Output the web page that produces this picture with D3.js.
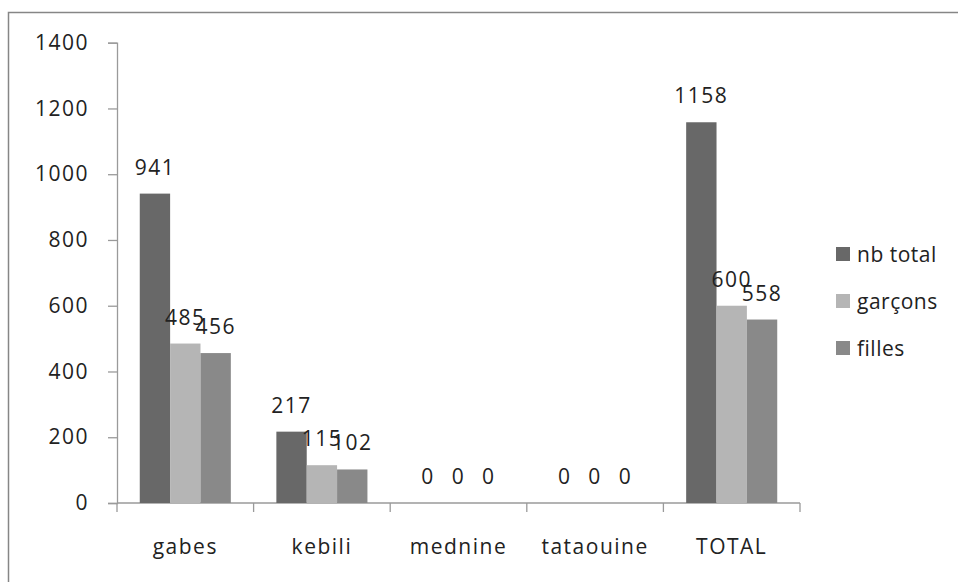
<!DOCTYPE html>
<html>
<head>
<meta charset="utf-8">
<script src="https://cdn.jsdelivr.net/npm/d3@7"></script>
<style>
  html, body { margin: 0; padding: 0; background: #fff; }
  text { font-family: "Open Sans", sans-serif; fill: #222; }
</style>
</head>
<body>
<svg id="chart" width="958" height="582"></svg>
<script>
const categories = ["gabes", "kebili", "mednine", "tataouine", "TOTAL"];
const seriesNames = ["nb total", "garçons", "filles"];
const nbTotal = [941, 217, 0, 0, 1158];
const garcons = [485, 115, 0, 0, 600];
const filles = [456, 102, 0, 0, 558];
const yTicks = [0, 200, 400, 600, 800, 1000, 1200, 1400];
const colors = ["#686868", "#b5b5b5", "#898989"];

const seriesValues = [nbTotal, garcons, filles];
const svg = d3.select("#chart");

// outer frame (extends beyond the visible area)
svg.append("rect")
  .attr("x", 8.5).attr("y", 12.5)
  .attr("width", 980).attr("height", 600)
  .attr("fill", "none").attr("stroke", "#868686").attr("stroke-width", 1.5);

const plotLeft = 117, plotRight = 800, plotTop = 42.7, plotBottom = 503;

const x0 = d3.scaleBand().domain(categories).range([plotLeft, plotRight]).paddingInner(0).paddingOuter(0);
const bandW = x0.bandwidth();
const barW = bandW / 4.5;
const x1 = d3.scaleBand().domain(seriesNames).range([0, barW * 3]);
const groupOffset = (bandW - barW * 3) / 2;

const y = d3.scaleLinear().domain([0, 1400]).range([plotBottom, plotTop]);

const fontSize = 21;
const ls = "1.5px";

// y axis
const yAxis = svg.append("g").attr("transform", `translate(${plotLeft},0)`)
  .call(d3.axisLeft(y).tickValues(yTicks).tickSize(9).tickPadding(19).tickFormat(d3.format("d")));
yAxis.select(".domain").attr("stroke", "#9a9a9a").attr("stroke-width", 1.3);
yAxis.selectAll(".tick line").attr("stroke", "#9a9a9a").attr("stroke-width", 1.3);
yAxis.selectAll(".tick text")
  .style("font-family", '"Open Sans", sans-serif')
  .style("font-size", fontSize + "px")
  .style("letter-spacing", ls)
  .attr("fill", "#222");

// x axis
const xAxisG = svg.append("g").attr("transform", `translate(0,${plotBottom})`);
xAxisG.append("line")
  .attr("x1", plotLeft).attr("x2", plotRight).attr("y1", 0).attr("y2", 0)
  .attr("stroke", "#9a9a9a").attr("stroke-width", 1.3);
const boundaries = categories.map(c => x0(c)).concat([plotRight]);
xAxisG.selectAll("line.tk").data(boundaries).join("line")
  .attr("class", "tk")
  .attr("x1", d => d).attr("x2", d => d).attr("y1", 0).attr("y2", 9)
  .attr("stroke", "#9a9a9a").attr("stroke-width", 1.3);
xAxisG.selectAll("text.cat").data(categories).join("text")
  .attr("class", "cat")
  .attr("x", d => x0(d) + bandW / 2)
  .attr("y", 51)
  .attr("text-anchor", "middle")
  .style("font-size", fontSize + "px")
  .style("letter-spacing", ls)
  .text(d => d);

// bars
const groups = svg.selectAll("g.grp").data(categories).join("g")
  .attr("class", "grp")
  .attr("transform", d => `translate(${x0(d) + groupOffset},0)`);

groups.each(function(cat, ci) {
  const g = d3.select(this);
  const data = seriesNames.map((s, si) => ({ s, si, v: seriesValues[si][ci] }));
  g.selectAll("rect").data(data).join("rect")
    .attr("x", d => x1(d.s))
    .attr("width", barW)
    .attr("y", d => y(d.v))
    .attr("height", d => plotBottom - y(d.v))
    .attr("fill", d => colors[d.si]);
  g.selectAll("text").data(data).join("text")
    .attr("x", d => x1(d.s) + barW / 2)
    .attr("y", d => y(d.v) - 19)
    .attr("text-anchor", "middle")
    .style("font-size", fontSize + "px")
    .style("letter-spacing", ls)
    .text(d => d.v);
});

// legend
const legend = svg.append("g").attr("transform", "translate(836,254)");
const items = legend.selectAll("g").data(seriesNames).join("g")
  .attr("transform", (d, i) => `translate(0,${i * 47})`);
items.append("rect")
  .attr("x", 0).attr("y", -7).attr("width", 14).attr("height", 14)
  .attr("fill", (d, i) => colors[i]);
items.append("text")
  .attr("x", 21).attr("y", 7.5)
  .style("font-size", fontSize + "px")
  .style("letter-spacing", "0.5px")
  .text(d => d);
</script>
</body>
</html>
